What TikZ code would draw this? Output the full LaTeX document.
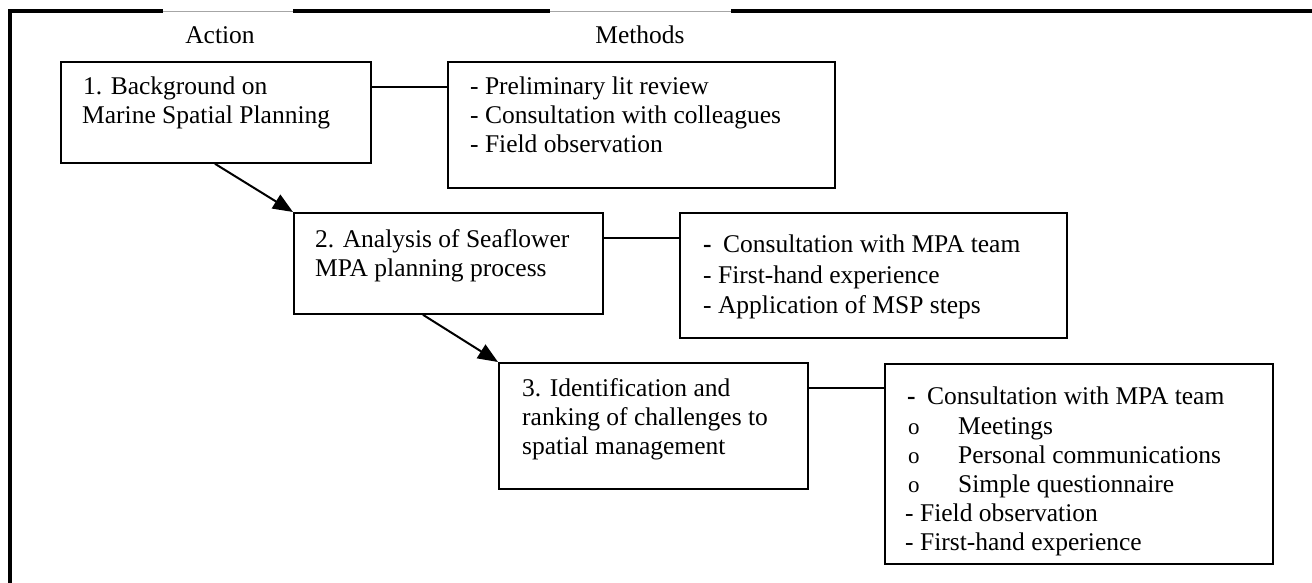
\documentclass[tikz,border=0pt]{standalone}
\usepackage{fontspec}
\setmainfont{Liberation Serif}
\usetikzlibrary{arrows.meta,calc}
\tikzset{
  box/.style={draw=black, line width=1.8pt, anchor=north west, inner sep=0pt},
  txt/.style={anchor=base west, inner sep=0pt, font=\fontsize{25.5}{29}\selectfont},
  head/.style={anchor=base, inner sep=0pt, font=\fontsize{25.5}{29}\selectfont},
  bul/.style={anchor=base west, inner sep=0pt, font=\fontsize{23}{29}\selectfont},
  link/.style={draw=black, line width=1.5pt},
  flow/.style={draw=black, line width=2pt, -{Triangle[length=20pt,width=16pt]}},
  frame/.style={draw=black, line width=4pt, line join=miter},
  thin/.style={draw=black!35, line width=1pt}
}
\begin{document}
\begin{tikzpicture}[x=1pt,y=-1pt]
\useasboundingbox (0,0) rectangle (1312,583);
% outer frame
\coordinate (f0) at (10,583);
\coordinate (f1) at (10,11.5);
\coordinate (f2) at (163,11.5);
\coordinate (f3) at (293,11.5);
\coordinate (f4) at (550,11.5);
\coordinate (f5) at (731,11.5);
\coordinate (f6) at (1312,11.5);
\draw[frame] (f0) -- (f1) -- (f2);
\draw[frame] (f3) -- (f4);
\draw[frame] (f5) -- (f6);
\draw[thin] (f2) -- (f3);
\draw[thin] (f4) -- (f5);
% headings
\node[head] (act) at (220,44) {Action};
\node[head] (meth) at (640,44) {Methods};
% boxes
\node[box, minimum width=310pt, minimum height=101pt] (b1) at (60,61) {};
\node[box, minimum width=387pt, minimum height=126pt] (m1) at (447,61) {};
\node[box, minimum width=309pt, minimum height=101pt] (b2) at (293,212) {};
\node[box, minimum width=387pt, minimum height=125pt] (m2) at (679,212) {};
\node[box, minimum width=309pt, minimum height=126pt] (b3) at (498,362) {};
\node[box, minimum width=388pt, minimum height=200pt] (m3) at (884,363) {};
% box texts
\node[txt] (b1a) at (83,95) {1. Background on};
\node[txt] (b1b) at (82,124) {Marine Spatial Planning};
\node[txt] (b2a) at (315,247) {2. Analysis of Seaflower};
\node[txt] (b2b) at (315,276) {MPA planning process};
\node[txt] (b3a) at (522,396) {3. Identification and};
\node[txt] (b3b) at (522,425) {ranking of challenges to};
\node[txt] (b3c) at (522,454) {spatial management};
% methods texts
\node[txt] (m1a) at (470,95) {- Preliminary lit review};
\node[txt] (m1b) at (470,124) {- Consultation with colleagues};
\node[txt] (m1c) at (470,153) {- Field observation};
\node[txt] (m2a) at (703,252) {\textbf{-}\hspace{5pt} Consultation with MPA team};
\node[txt] (m2b) at (703,283) {- First-hand experience};
\node[txt] (m2c) at (703,313) {- Application of MSP steps};
\node[txt] (m3a) at (907,404) {\textbf{-}\hspace{5pt} Consultation with MPA team};
\node[bul] (m3o1) at (908,434) {o};
\node[txt] (m3b) at (958,434) {Meetings};
\node[bul] (m3o2) at (908,463) {o};
\node[txt] (m3c) at (958,463) {Personal communications};
\node[bul] (m3o3) at (908,492) {o};
\node[txt] (m3d) at (958,492) {Simple questionnaire};
\node[txt] (m3e) at (905,521) {- Field observation};
\node[txt] (m3f) at (905,550) {- First-hand experience};
% connectors
\coordinate (c1) at ($(b1.north east)+(0,26)$);
\coordinate (c2) at ($(b2.north east)+(0,26)$);
\coordinate (c3) at ($(b3.north east)+(0,26)$);
\draw[link] (c1) -- (c1 -| m1.west);
\draw[link] (c2) -- (c2 -| m2.west);
\draw[link] (c3) -- (c3 -| m3.west);
\coordinate (s1) at ($(b1.south west)+(155,0)$);
\coordinate (s2) at ($(b2.south west)+(130,0)$);
\draw[flow] (s1) -- (b2.north west);
\draw[flow] (s2) -- (b3.north west);
\end{tikzpicture}
\end{document}
